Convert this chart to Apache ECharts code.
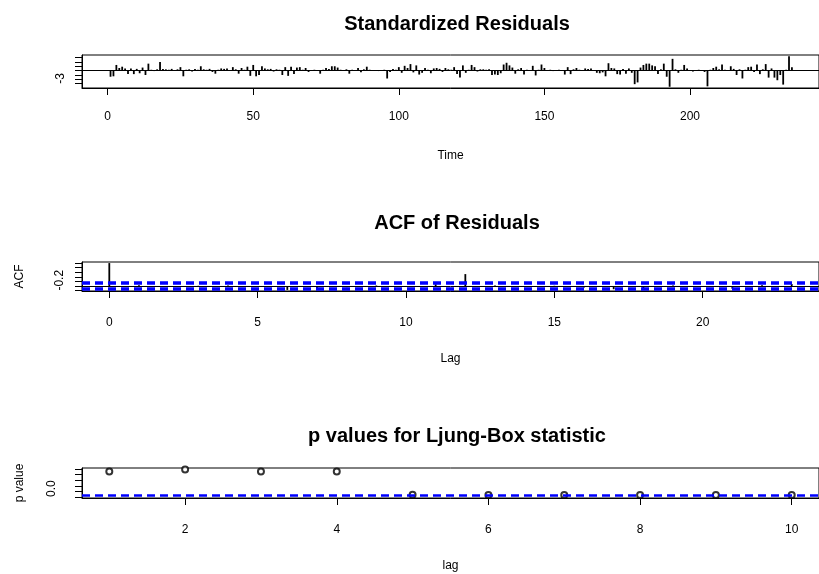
<!DOCTYPE html>
<html>
<head>
<meta charset="utf-8">
<script src="https://cdn.jsdelivr.net/npm/echarts@6/dist/echarts.min.js"></script>
<style>
html, body { margin: 0; padding: 0; background: #fff; }
#main { width: 819px; height: 574px; }
</style>
</head>
<body>
<div id="main"></div>
<script>
// standardized residuals, t = 1..235
var residuals = [
  -1.4, -1.3, 1.3, 0.6, 0.9, 0.5, -0.8, 0.5, -0.8, 0.4,
  -0.6, 0.7, -1.0, 1.6, 0.2, -0.1, 0.3, 2.0, 0.4, 0.3,
  0.2, 0.4, 0.1, 0.3, 0.8, -1.3, 0.2, 0.3, -0.2, 0.4,
  0.2, 1.0, 0.3, 0.2, 0.4, -0.3, -0.7, 0.2, 0.5, 0.4,
  0.5, 0.1, 0.8, 0.3, -0.7, 0.6, 0.2, 0.9, -1.2, 1.3,
  -1.3, -1.0, 1.0, 0.5, 0.3, 0.4, -0.2, 0.3, 0.2, -1.0,
  0.8, -1.2, 0.9, -0.8, 0.7, 0.8, 0.2, 0.6, -0.3, 0.1,
  0.2, 0.1, -0.7, 0.2, 0.6, 0.4, 1.0, 1.0, 0.7, 0.2,
  0.1, 0.3, -0.7, 0.2, 0.1, 0.6, -0.4, 0.3, 0.9, 0.2,
  0.1, 0.1, -0.1, 0.1, 0.2, -1.8, -0.3, 0.4, 0.2, 0.8,
  -0.5, 1.1, 0.6, 1.5, -0.4, 1.2, -0.9, -0.5, 0.6, 0.2,
  -0.6, 0.5, 0.6, 0.4, -0.3, 0.6, 0.3, 0.2, 0.8, -0.8,
  -1.6, 1.2, -0.5, 0.2, 1.3, 0.8, -0.2, 0.3, 0.3, 0.2,
  0.3, -1.0, -0.9, -1.0, -0.6, 1.4, 1.8, 1.2, 0.7, -0.7,
  0.3, 0.6, -0.9, 0.2, 0.1, 1.1, -1.1, 0.2, 1.4, 0.6,
  0.1, 0.2, -0.1, 0.1, 0.2, 0.1, -0.9, 0.8, -0.8, 0.3,
  0.6, 0.2, 0.1, 0.5, 0.4, 0.5, 0.1, -0.5, -0.6, -0.4,
  -1.3, 1.7, 0.6, 0.5, -0.8, -0.9, 0.4, -0.7, 0.5, -0.5,
  -3.1, -2.7, 0.7, 1.3, 1.6, 1.6, 1.2, 1.0, -0.8, 0.3,
  1.6, -1.4, -3.7, 2.7, 0.3, -0.5, 0.2, 1.3, 0.5, 0.1,
  -0.2, 0.1, 0.2, 0.1, -0.3, -3.6, 0.2, 0.6, 0.9, 0.3,
  1.4, 0.2, 0.1, 1.0, 0.4, -1.0, 0.3, -1.8, 0.2, 0.8,
  0.9, -0.3, 1.4, -0.8, 0.3, 1.5, -1.6, 0.5, -1.6, -2.2,
  -1.0, -3.2, 0.2, 3.3, 0.8
];

var acfLags = [0, 1, 2, 3, 4, 5, 6, 7, 8, 9, 10, 11, 12, 13, 14, 15, 16, 17, 18, 19, 20, 21, 22, 23];
var acfValues = [1, 0.03, -0.02, 0.01, 0.02, -0.03, -0.17, -0.15, -0.05, 0.02, -0.01, 0.08,
                 0.52, 0.02, -0.03, 0.01, -0.06, -0.14, -0.14, 0.02, -0.02, -0.12, 0.03, 0.09];
var acfBound = 0.128;

var lbLags = [1, 2, 3, 4, 5, 6, 7, 8, 9, 10];
var lbPValues = [0.91, 0.99, 0.91, 0.91, 0.08, 0.07, 0.07, 0.07, 0.07, 0.07];
var pLimit = 0.05;

var timeTicks = [0, 50, 100, 150, 200];
var lagTicks = [0, 5, 10, 15, 20];
var lbTicks = [2, 4, 6, 8, 10];

var myChart = echarts.init(document.getElementById('main'), null, { renderer: 'canvas' });

var font = '"Liberation Sans", Arial, sans-serif';
var blueDash = { color: '#0000ff', width: 2.5, type: [8, 5] };
var blueDashThick = { color: '#0000ff', width: 3.5, type: [8, 5] };
var blackLine = { color: '#000', width: 1, type: 'solid' };

function box(top, height) {
    return { left: 82, top: top, width: 745, height: height, show: true,
             borderColor: '#000', borderWidth: 1, backgroundColor: 'transparent' };
}

function xAxisFor(idx, min, max, ticks, name, margin) {
    return {
        gridIndex: idx, type: 'value', min: min, max: max,
        name: name, nameLocation: 'middle', nameGap: 62,
        nameTextStyle: { color: '#000', fontSize: 12, fontFamily: font },
        axisLine: { show: true, onZero: false, lineStyle: { color: '#000' } },
        axisTick: { show: true, length: 7, customValues: ticks, lineStyle: { color: '#000' } },
        axisLabel: { customValues: ticks, color: '#000', fontSize: 12, fontFamily: font, margin: margin },
        splitLine: { show: false }
    };
}

function yAxisFor(idx, min, max, ticks, labels, name, margin, fmt) {
    return {
        gridIndex: idx, type: 'value', min: min, max: max,
        name: name, nameLocation: 'middle', nameGap: 56, nameRotate: 90,
        nameTextStyle: { color: '#000', fontSize: 12, fontFamily: font },
        axisLine: { show: true, onZero: false, lineStyle: { color: '#000' } },
        axisTick: { show: true, length: 7, customValues: ticks, lineStyle: { color: '#000' } },
        axisLabel: { customValues: labels, rotate: 90, align: 'left', color: '#000', fontSize: 12,
                     fontFamily: font, margin: margin, formatter: fmt },
        splitLine: { show: false }
    };
}

function titleAt(text, top) {
    return { text: text, left: 452, top: top, textAlign: 'center',
             textStyle: { color: '#000', fontSize: 20, fontWeight: 'bold', fontFamily: font } };
}

var option = {
    animation: false,
    backgroundColor: '#fff',
    title: [
        titleAt('Standardized Residuals', 9),
        titleAt('ACF of Residuals', 208),
        titleAt('p values for Ljung-Box statistic', 421)
    ],
    grid: [box(55, 33), box(262, 29), box(468, 30)],
    xAxis: [
        xAxisFor(0, -8.8, 244.3, timeTicks, 'Time', 23),
        xAxisFor(1, -0.92, 23.92, lagTicks, 'Lag', 26),
        xAxisFor(2, 0.64, 10.36, lbTicks, 'lag', 26)
    ],
    yAxis: [
        yAxisFor(0, -3.98, 3.58, [-3, -2, -1, 0, 1, 2, 3], [-3], '', 15, function (v) { return String(v); }),
        yAxisFor(1, -0.217, 1.047, [-0.2, 0, 0.2, 0.4, 0.6, 0.8, 1.0], [-0.2], 'ACF', 16,
                 function (v) { return v.toFixed(1); }),
        yAxisFor(2, -0.04, 1.04, [0, 0.2, 0.4, 0.6, 0.8, 1.0], [0], 'p value', 24,
                 function (v) { return v.toFixed(1); })
    ],
    series: [
        {
            name: 'residuals', type: 'bar', xAxisIndex: 0, yAxisIndex: 0,
            barWidth: 1.8, itemStyle: { color: '#000' },
            data: residuals.map(function (v, i) { return [i + 1, v]; }),
            markLine: { silent: true, symbol: ['none', 'none'], label: { show: false },
                        lineStyle: blackLine, data: [{ yAxis: 0 }] }
        },
        {
            name: 'acf', type: 'bar', xAxisIndex: 1, yAxisIndex: 1,
            barWidth: 1.8, itemStyle: { color: '#000' },
            data: acfLags.map(function (l, i) { return [l, acfValues[i]]; }),
            markLine: { silent: true, symbol: ['none', 'none'], label: { show: false },
                        data: [
                            { yAxis: 0, lineStyle: blackLine },
                            { yAxis: acfBound, lineStyle: blueDashThick },
                            { yAxis: -acfBound, lineStyle: blueDashThick }
                        ] }
        },
        {
            name: 'ljung-box', type: 'scatter', xAxisIndex: 2, yAxisIndex: 2,
            symbol: 'emptyCircle', symbolSize: 6,
            itemStyle: { color: '#000', borderColor: '#000', borderWidth: 1 },
            data: lbLags.map(function (l, i) { return [l, lbPValues[i]]; }),
            markLine: { silent: true, symbol: ['none', 'none'], label: { show: false },
                        lineStyle: blueDash, data: [{ yAxis: pLimit }] }
        }
    ]
};

myChart.setOption(option);
</script>
</body>
</html>
